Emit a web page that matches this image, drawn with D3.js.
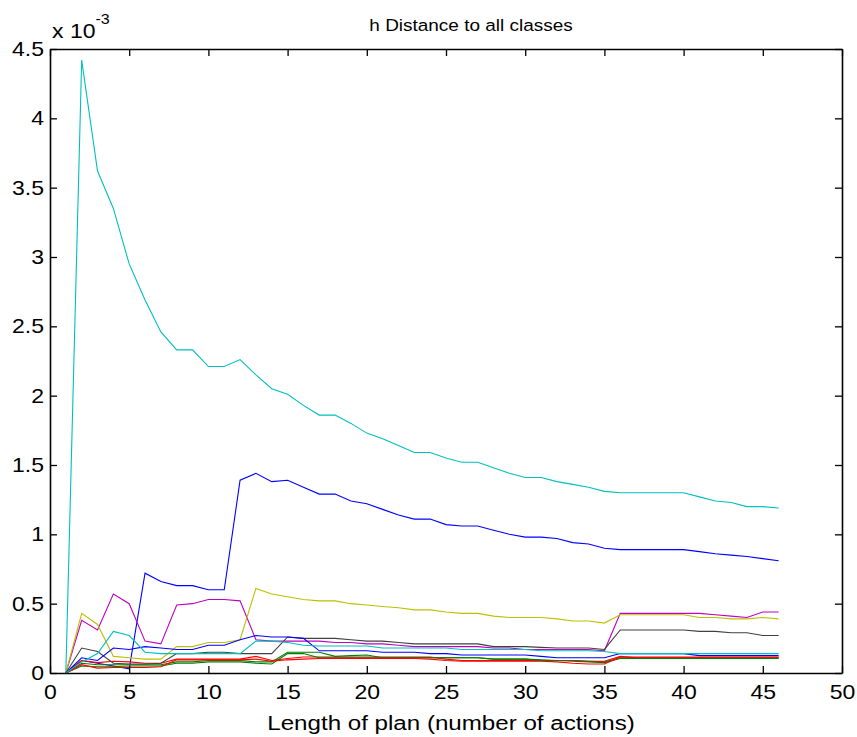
<!DOCTYPE html>
<html>
<head>
<meta charset="utf-8">
<script src="https://cdn.jsdelivr.net/npm/d3@7"></script>
<style>
  body { margin: 0; background: #fff; }
  text { font-family: "Liberation Sans", Arial, sans-serif; fill: #000; }
</style>
</head>
<body>
<script>
// plan length on x, distance (x 1e-3) on y
const planLength = d3.range(1, 47)
const xTicks = [0, 5, 10, 15, 20, 25, 30, 35, 40, 45, 50]
const yTicks = [0, 0.5, 1, 1.5, 2, 2.5, 3, 3.5, 4, 4.5]
const yTickLabels = ['0', '0.5', '1', '1.5', '2', '2.5', '3', '3.5', '4', '4.5']

const blueMain = [0, 0.09, 0.07, 0.05, 0.03, 0.72, 0.66, 0.63, 0.63, 0.60,
    0.60, 1.39, 1.44, 1.38, 1.39, 1.34, 1.29, 1.29, 1.24, 1.22,
    1.18, 1.14, 1.11, 1.11, 1.07, 1.06, 1.06, 1.03, 1.00, 0.98,
    0.98, 0.97, 0.94, 0.93, 0.90, 0.89, 0.89, 0.89, 0.89, 0.89,
    0.875, 0.86, 0.85, 0.84, 0.825, 0.81]
const greenA = [0, 0.07, 0.06, 0.06, 0.06, 0.06, 0.06, 0.08, 0.08, 0.09,
    0.09, 0.09, 0.08, 0.08, 0.15, 0.15, 0.15, 0.12, 0.125, 0.13,
    0.11, 0.11, 0.11, 0.11, 0.11, 0.11, 0.11, 0.10, 0.10, 0.10,
    0.095, 0.09, 0.09, 0.085, 0.08, 0.11, 0.11, 0.11, 0.11, 0.11,
    0.11, 0.11, 0.11, 0.11, 0.11, 0.11]
const redA = [0, 0.09, 0.075, 0.085, 0.08, 0.07, 0.07, 0.10, 0.10, 0.10,
    0.10, 0.10, 0.12, 0.09, 0.105, 0.115, 0.115, 0.115, 0.115, 0.115,
    0.115, 0.115, 0.115, 0.115, 0.10, 0.09, 0.09, 0.09, 0.09, 0.09,
    0.09, 0.09, 0.09, 0.085, 0.085, 0.12, 0.11, 0.11, 0.11, 0.11,
    0.11, 0.11, 0.11, 0.11, 0.11, 0.11]
const cyanMain = [0, 4.42, 3.62, 3.35, 2.95, 2.69, 2.46, 2.33, 2.33, 2.21,
    2.21, 2.26, 2.15, 2.05, 2.01, 1.93, 1.86, 1.86, 1.80, 1.73,
    1.69, 1.64, 1.59, 1.59, 1.55, 1.52, 1.52, 1.48, 1.44, 1.41,
    1.41, 1.38, 1.36, 1.34, 1.31, 1.30, 1.30, 1.30, 1.30, 1.30,
    1.27, 1.24, 1.23, 1.20, 1.20, 1.19]
const magenta = [0, 0.38, 0.31, 0.57, 0.50, 0.23, 0.21, 0.49, 0.50, 0.53,
    0.53, 0.52, 0.24, 0.23, 0.23, 0.23, 0.23, 0.22, 0.22, 0.21,
    0.21, 0.20, 0.19, 0.19, 0.19, 0.19, 0.19, 0.18, 0.18, 0.17,
    0.17, 0.17, 0.17, 0.17, 0.16, 0.43, 0.43, 0.43, 0.43, 0.43,
    0.43, 0.42, 0.41, 0.40, 0.44, 0.44]
const yellow = [0, 0.43, 0.35, 0.12, 0.11, 0.10, 0.10, 0.19, 0.19, 0.22,
    0.22, 0.24, 0.61, 0.57, 0.55, 0.53, 0.52, 0.52, 0.50, 0.49,
    0.48, 0.47, 0.455, 0.455, 0.44, 0.43, 0.43, 0.41, 0.40, 0.40,
    0.40, 0.39, 0.375, 0.375, 0.36, 0.42, 0.42, 0.42, 0.42, 0.42,
    0.40, 0.40, 0.39, 0.39, 0.40, 0.39]
const grey = [0, 0.18, 0.155, 0.07, 0.065, 0.065, 0.07, 0.14, 0.14, 0.15,
    0.15, 0.14, 0.14, 0.14, 0.26, 0.25, 0.25, 0.25, 0.24, 0.23,
    0.23, 0.22, 0.21, 0.21, 0.21, 0.21, 0.21, 0.19, 0.19, 0.19,
    0.185, 0.18, 0.18, 0.18, 0.17, 0.31, 0.31, 0.31, 0.31, 0.31,
    0.30, 0.30, 0.29, 0.29, 0.27, 0.27]
const blueSmall = [0, 0.11, 0.09, 0.18, 0.17, 0.19, 0.18, 0.17, 0.17, 0.20,
    0.20, 0.24, 0.27, 0.26, 0.26, 0.25, 0.16, 0.16, 0.16, 0.16,
    0.15, 0.15, 0.15, 0.14, 0.14, 0.13, 0.13, 0.13, 0.13, 0.13,
    0.12, 0.11, 0.11, 0.11, 0.11, 0.14, 0.14, 0.14, 0.14, 0.14,
    0.125, 0.125, 0.125, 0.125, 0.125, 0.125]
const greenB = [0, 0.05, 0.045, 0.045, 0.05, 0.05, 0.05, 0.07, 0.07, 0.08,
    0.08, 0.08, 0.07, 0.065, 0.14, 0.14, 0.11, 0.11, 0.11, 0.11,
    0.11, 0.11, 0.11, 0.11, 0.11, 0.11, 0.11, 0.10, 0.10, 0.10,
    0.09, 0.09, 0.085, 0.08, 0.075, 0.105, 0.105, 0.105, 0.105, 0.105,
    0.105, 0.105, 0.105, 0.105, 0.105, 0.105]
const redB = [0, 0.06, 0.035, 0.04, 0.04, 0.04, 0.045, 0.095, 0.095, 0.095,
    0.095, 0.095, 0.10, 0.085, 0.095, 0.10, 0.105, 0.105, 0.105, 0.105,
    0.105, 0.105, 0.105, 0.10, 0.09, 0.085, 0.085, 0.085, 0.085, 0.085,
    0.085, 0.08, 0.07, 0.065, 0.065, 0.115, 0.115, 0.115, 0.115, 0.115,
    0.115, 0.115, 0.115, 0.115, 0.115, 0.115]
const cyanSmall = [0, 0.08, 0.14, 0.30, 0.27, 0.15, 0.14, 0.14, 0.14, 0.14,
    0.14, 0.14, 0.23, 0.23, 0.22, 0.20, 0.195, 0.195, 0.195, 0.195,
    0.18, 0.18, 0.18, 0.18, 0.18, 0.17, 0.17, 0.17, 0.17, 0.17,
    0.16, 0.16, 0.16, 0.16, 0.155, 0.14, 0.14, 0.14, 0.14, 0.14,
    0.14, 0.14, 0.14, 0.14, 0.14, 0.14]

// matlab colour order b g r c m y k
const series = [
    {values: blueMain, color: '#0000ff'},
    {values: greenA, color: '#008000'},
    {values: redA, color: '#ff0000'},
    {values: cyanMain, color: '#00bfbf'},
    {values: magenta, color: '#bf00bf'},
    {values: yellow, color: '#bfbf00'},
    {values: grey, color: '#404040'},
    {values: blueSmall, color: '#0000ff'},
    {values: greenB, color: '#008000'},
    {values: redB, color: '#ff0000'},
    {values: cyanSmall, color: '#00bfbf'}
]

const width = 857, height = 737
const margin = {top: 49, right: 15, bottom: 64, left: 50}
const stretch = 1.15

const svg = d3.select('body').append('svg')
    .attr('width', width)
    .attr('height', height)

const x = d3.scaleLinear()
    .domain([0, 50])
    .range([margin.left, width - margin.right])
const y = d3.scaleLinear()
    .domain([0, 4.5])
    .range([height - margin.bottom, margin.top])

const line = d3.line()
    .x((d, i) => x(planLength[i]))
    .y(d => y(d))

svg.append('g')
    .selectAll('path')
    .data(series)
    .join('path')
    .attr('fill', 'none')
    .attr('stroke', d => d.color)
    .attr('stroke-width', 1.1)
    .attr('d', d => line(d.values))

// axes, ticks pointing in
function styleAxis(g) {
    g.select('.domain').attr('stroke', '#000').attr('stroke-width', 1.6)
    g.selectAll('.tick line').attr('stroke', '#000').attr('stroke-width', 1.3)
    g.selectAll('text').attr('font-size', 20).attr('font-family', '"Liberation Sans", Arial, sans-serif')
}

const bottomAxis = svg.append('g')
    .attr('transform', `translate(0, ${height - margin.bottom})`)
    .call(d3.axisBottom(x).tickValues(xTicks).tickSize(-7).tickSizeOuter(0).tickPadding(12))
    .call(styleAxis)
bottomAxis.selectAll('text').attr('transform', `scale(${stretch}, 1)`)

const leftAxis = svg.append('g')
    .attr('transform', `translate(${margin.left}, 0)`)
    .call(d3.axisLeft(y).tickValues(yTicks).tickFormat((d, i) => yTickLabels[i])
        .tickSize(-7).tickSizeOuter(0).tickPadding(6))
    .call(styleAxis)
leftAxis.selectAll('text')
    .attr('x', -6 / stretch)
    .attr('transform', `scale(${stretch}, 1)`)

svg.append('g')
    .attr('transform', `translate(0, ${margin.top})`)
    .call(d3.axisTop(x).tickValues(xTicks).tickSize(-7).tickSizeOuter(0).tickFormat(''))
    .call(styleAxis)

svg.append('g')
    .attr('transform', `translate(${width - margin.right}, 0)`)
    .call(d3.axisRight(y).tickValues(yTicks).tickSize(-7).tickSizeOuter(0).tickFormat(''))
    .call(styleAxis)

// exponent
const expo = svg.append('text')
    .attr('transform', `translate(52, 38) scale(${stretch}, 1)`)
    .attr('font-size', 20)
expo.append('tspan').text('x 10')
expo.append('tspan').attr('font-size', 14).attr('dy', -14).text('-3')

svg.append('text')
    .attr('transform', `translate(471, 31) scale(${stretch}, 1)`)
    .attr('text-anchor', 'middle')
    .attr('font-size', 16.5)
    .text('h Distance to all classes')

svg.append('text')
    .attr('transform', `translate(451, 730) scale(${stretch}, 1)`)
    .attr('text-anchor', 'middle')
    .attr('font-size', 21)
    .text('Length of plan (number of actions)')
</script>
</body>
</html>
